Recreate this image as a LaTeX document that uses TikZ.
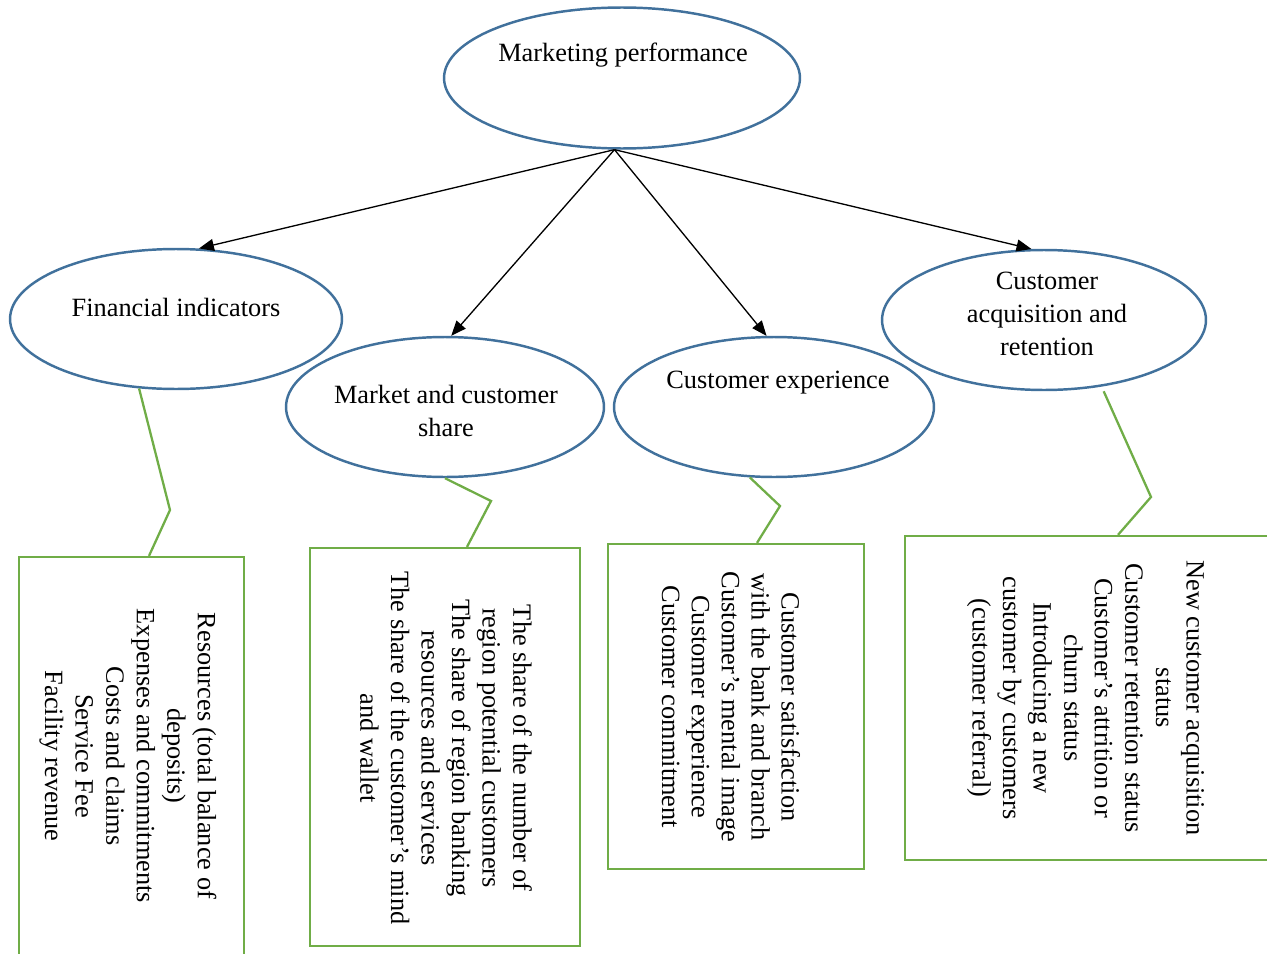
\documentclass[tikz,border=0pt]{standalone}
\usepackage{fontspec}
\setmainfont{Liberation Serif}
\usetikzlibrary{arrows.meta,shapes.geometric}
\definecolor{ovalblue}{HTML}{41719C}
\definecolor{boxgreen}{HTML}{70AD47}
\tikzset{
  oval/.style={draw=ovalblue, line width=1.4pt, ellipse, fill=white, inner sep=0pt},
  ovaltext/.style={align=center, inner sep=0pt, font=\fontsize{15}{18.8}\selectfont},
  listbox/.style={draw=boxgreen, line width=1.3pt, rectangle, inner sep=0pt},
  listtext/.style={align=center, inner sep=0pt, rotate=-90, font=\fontsize{15}{17.4}\selectfont},
  branch/.style={-{Triangle[length=0.3cm,width=0.24cm]}, line width=0.75pt},
  callout/.style={draw=boxgreen, line width=1.3pt}
}

\begin{document}
\begin{tikzpicture}[x=0.02cm, y=-0.02cm]
\useasboundingbox (0,0) rectangle (1267,953);
\clip (0,0) rectangle (1267,953);
% --- ovals ---
\node[oval, minimum width=7.12cm, minimum height=2.82cm] (mp) at (622,78) {};
\node[ovaltext] (mptext) at (623,55) {Marketing performance};
\node[oval, minimum width=6.64cm, minimum height=2.8cm] (fin) at (176,319) {};
\node[ovaltext] (fintext) at (176,307) {Financial indicators};
\node[oval, minimum width=6.36cm, minimum height=2.8cm] (mkt) at (445,407) {};
\node[ovaltext] (mkttext) at (446,411) {Market and customer\\share};
\node[oval, minimum width=6.4cm, minimum height=2.8cm] (exp) at (774,407) {};
\node[ovaltext] (exptext) at (778,383) {Customer experience};
\node[oval, minimum width=6.48cm, minimum height=2.8cm] (acq) at (1044,320) {};
\node[ovaltext] (acqtext) at (1047,314) {Customer\\acquisition and\\retention};
% --- arrows ---
\draw[branch] (mp.264) -- (fin.72);
\draw[branch] (mp.264) -- (mkt.85);
\draw[branch] (mp.264) -- (exp.96);
\draw[branch] (mp.264) -- (acq.100);
% --- boxes ---
\node[listbox, minimum width=4.5cm, minimum height=8.24cm] (finbox) at (131.5,763) {};
\node[listtext] (finlist) at (128,756) {Resources (total balance of\\deposits)\\Expenses and commitments\\Costs and claims\\Service Fee\\Facility revenue};
\node[listbox, minimum width=5.4cm, minimum height=7.96cm] (mktbox) at (445,747) {};
\node[listtext] (mktlist) at (446,748) {The share of the number of\\region potential customers\\The share of region banking\\resources and services\\The share of the customer’s mind\\and wallet};
\node[listbox, minimum width=5.12cm, minimum height=6.5cm] (expbox) at (736,706.5) {};
\node[listtext, font=\fontsize{15}{17}\selectfont] (explist) at (731,707) {Customer satisfaction\\with the bank and branch\\Customer's mental image\\Customer experience\\Customer commitment};
\node[listbox, minimum width=7.6cm, minimum height=6.48cm] (acqbox) at (1095,698) {};
\node[listtext] (acqlist) at (1085.5,698) {New customer acquisition\\status\\Customer retention status\\Customer's attrition or\\churn status\\Introducing a new\\customer by customers\\(customer referral)};
% --- callout lines ---
\coordinate (finbend) at (170,510);
\coordinate (mktbend) at (491,501);
\coordinate (expbend) at (780,506);
\coordinate (acqbend) at (1151,497);
\draw[callout] (fin.242) -- (finbend) -- ([xshift=0.35cm]finbox.north);
\draw[callout] (mkt.south) -- (mktbend) -- ([xshift=0.44cm]mktbox.north);
\draw[callout] (exp.251) -- (expbend) -- ([xshift=0.42cm]expbox.north);
\draw[callout] ([yshift=-0.1cm]acq.312) -- (acqbend) -- ([xshift=0.46cm]acqbox.north);
\end{tikzpicture}
\end{document}
